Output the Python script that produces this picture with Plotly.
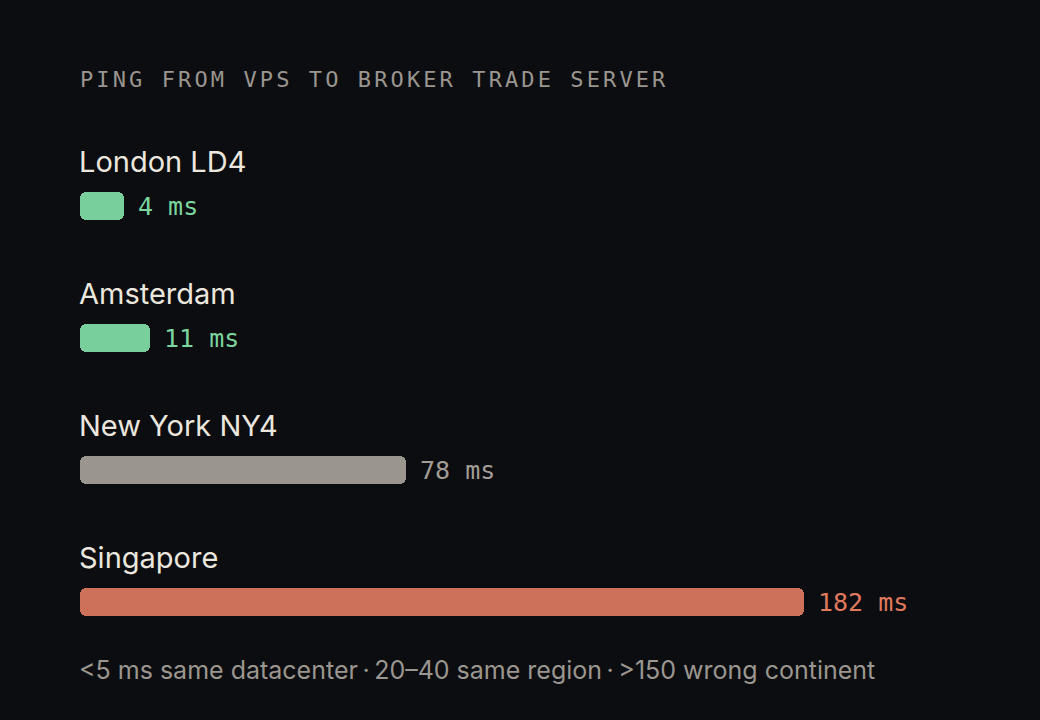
import plotly.graph_objects as go

# ---- data ----
locations = ["London LD4", "Amsterdam", "New York NY4", "Singapore"]
ping_ms = [4, 11, 78, 182]
bar_colors = ["#78cf9b", "#78cf9b", "#9a958e", "#cd715a"]
label_colors = ["#7ad69e", "#7ad69e", "#a29d96", "#e07a5e"]
title_text = "PING FROM VPS TO BROKER TRADE SERVER"
footer_text = "<5 ms same datacenter\u2009·\u200920–40 same region\u2009·\u2009>150 wrong continent"

# styling constants
BAR_BASE = -7.4          # visual minimum-length offset for bars
X_RANGE = [BAR_BASE, 233.3]
BG = "#0c0d10"
MONO = "DejaVu Sans Mono, monospace"
SANS = "Inter, Noto Sans, sans-serif"

fig = go.Figure()
fig.add_trace(go.Bar(
    y=locations,
    x=[v - BAR_BASE for v in ping_ms],
    base=BAR_BASE,
    orientation="h",
    marker=dict(color=bar_colors, cornerradius=6, line=dict(width=0)),
    width=0.212,
    hoverinfo="skip",
))

annotations = []
for loc, v, c in zip(locations, ping_ms, label_colors):
    annotations.append(dict(
        x=0, xref="paper", y=loc, yref="y", xanchor="left", yanchor="middle",
        xshift=-3, yshift=45, text=loc, showarrow=False,
        font=dict(family=SANS, size=29, color="#ebe7df"),
    ))
    annotations.append(dict(
        x=v, xref="x", y=loc, yref="y", xanchor="left", yanchor="middle",
        xshift=12, yshift=0, text=f"{v} ms", showarrow=False,
        font=dict(family=MONO, size=25, color=c),
    ))

annotations.append(dict(
    x=0, xref="paper", y=1.1155, yref="paper", xanchor="left", yanchor="middle",
    xshift=-2,
    text=f'<span style="letter-spacing:3.1px">{title_text}</span>', showarrow=False,
    font=dict(family=MONO, size=22, color="#9a958f"),
))
annotations.append(dict(
    x=0, xref="paper", y=-0.004, yref="paper", xanchor="left", yanchor="middle",
    xshift=-3,
    text=footer_text.replace("<", "&lt;").replace(">", "&gt;"), showarrow=False,
    font=dict(family=SANS, size=25, color="#9b968f"),
))

fig.update_layout(
    width=1040, height=720,
    margin=dict(l=80, r=40, t=140, b=52, pad=0),
    paper_bgcolor=BG, plot_bgcolor=BG,
    showlegend=False,
    xaxis=dict(range=X_RANGE, visible=False, fixedrange=True),
    yaxis=dict(categoryorder="array", categoryarray=locations, autorange="reversed",
               visible=False, fixedrange=True),
    annotations=annotations,
    bargap=0,
)

fig.write_html(
    "out.html",
    config={"displayModeBar": False},
    post_script=f"document.body.style.margin='0';document.body.style.background='{BG}';",
)
